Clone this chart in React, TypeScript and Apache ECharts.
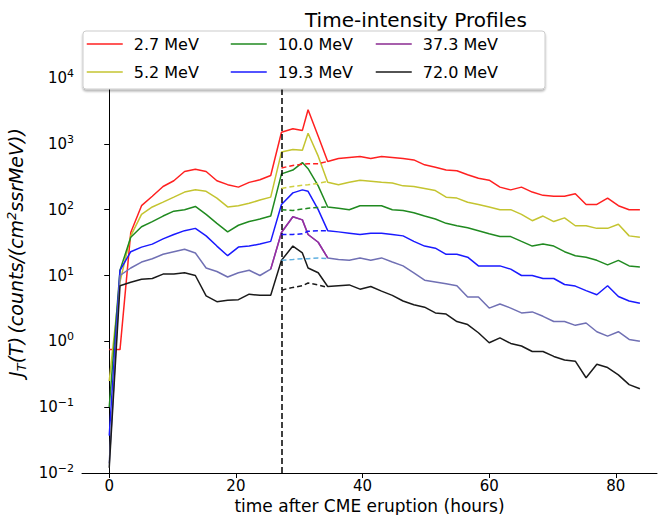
import React, { useEffect, useRef } from 'react';
import * as echarts from 'echarts';

// hours after eruption
const times = [0, 1.7, 3.4, 5.1, 6.8, 8.5, 10.2, 11.9, 13.6, 15.3, 17, 18.7, 20.4, 22.1, 23.8, 25.5,
  27.2, 29, 30.5, 31.4, 33, 34.5,
  36.2, 37.9, 39.6, 41.3, 43, 44.7, 46.4, 48.1, 49.8, 51.5, 53.2, 54.9, 56.6, 58.3, 60, 61.7, 63.4,
  65.1, 66.8, 68.5, 70.2, 71.9, 73.6, 75.3, 77, 78.7, 80.4, 82.1, 83.8];

const e27 = [0.75, 0.75, 45, 115, 160, 225, 275, 380, 410, 380, 275, 240, 220, 260, 285, 330,
  1500, 1700, 1600, 3300, 1300, 540,
  600, 620, 640, 600, 640, 620, 600, 570, 480, 440, 400, 390, 340, 300, 280, 220, 200, 220, 185, 165,
  160, 160, 175, 120, 120, 150, 115, 100, 100];
const e52 = [0.25, 8, 40, 85, 110, 130, 155, 185, 200, 190, 150, 110, 115, 125, 140, 155,
  750, 820, 800, 1450, 650, 260,
  240, 260, 280, 270, 260, 255, 230, 225, 210, 195, 155, 150, 130, 120, 110, 100, 100, 85, 68, 80,
  66, 75, 57, 57, 52, 52, 60, 40, 38];
const e100 = [0.1, 12, 38, 55, 66, 80, 95, 100, 112, 85, 62, 46, 58, 66, 72, 80,
  350, 400, 520, 420, 230, 110,
  105, 100, 115, 115, 115, 100, 97, 90, 80, 72, 62, 57, 53, 48, 43, 39, 39, 33, 28, 30,
  28, 23, 20, 19, 17, 14.5, 17, 14, 13.5];
const e193 = [0.037, 12, 23, 27, 30, 36, 42, 48, 52, 40, 28, 20, 27, 28, 30, 33,
  120, 180, 200, 190, 100, 48,
  46, 44, 42, 44, 44, 42, 40, 33, 28, 26, 21, 21, 19, 14, 14, 14, 12.5, 10, 10, 9,
  9, 7.3, 6.9, 5.9, 5.1, 7, 4.8, 4.1, 3.8];
const e373 = [0.014, 10, 13, 16, 18, 21, 23, 25, 22, 13, 11.5, 9.5, 11, 12, 10, 12.5,
  45, 78, 70, 42, 32, 18.5,
  17.5, 17, 18.5, 17, 18.5, 16, 14, 11, 8.5, 8, 7.5, 7, 4.7, 4.7, 3.2, 3.7, 3.2, 2.7, 2.8, 2.4,
  2, 2, 1.75, 1.9, 1.4, 1.2, 1.4, 1.07, 1.0];
const e720 = [0.012, 7, 7.9, 8.8, 9, 10.5, 10.5, 11, 10, 4.9, 4, 4.2, 4.3, 5.2, 5, 5,
  17, 28, 22, 13, 11, 6.8,
  7.0, 7.2, 6.2, 6.8, 5.8, 5.0, 4.1, 3.6, 3.3, 2.7, 2.6, 2.0, 1.8, 1.35, 0.95, 1.13, 0.93, 0.85, 0.7, 0.7,
  0.59, 0.52, 0.5, 0.28, 0.45, 0.40, 0.31, 0.22, 0.19];

// background estimates during the event (times 27.2 .. 34.5)
const bgTimes = [27.2, 29, 30.5, 31.4, 33, 34.5];
const bg27 = [430, 470, 490, 500, 500, 540];
const bg52 = [210, 225, 235, 240, 250, 270];
const bg100 = [100, 97, 102, 105, 108, 110];
const bg193 = [42, 42, 43, 47, 48, 48];
const bg373 = [17, 17.5, 18, 18, 18.5, 18];
const bg720 = [6, 6.6, 7, 7.7, 7.2, 6.6];

const onsetTime = 27.2;
const xTicks = [0, 20, 40, 60, 80];

const names = ['2.7 MeV', '5.2 MeV', '10.0 MeV', '19.3 MeV', '37.3 MeV', '72.0 MeV'];
const colors = ['#ff2020', '#c4c430', '#208a20', '#1a1aff', '#7070b4', '#1a1a1a'];
const legendColors = ['#ff2020', '#c4c430', '#208a20', '#1a1aff', '#8a2a90', '#1a1a1a'];
const dashColors = ['#ff2020', '#d0d040', '#208a20', '#1a1aff', '#60b0e0', '#1a1a1a'];

const App: React.FC = () => {
  const chartRef = useRef<HTMLDivElement>(null);

  useEffect(() => {
    if (!chartRef.current) return;
    document.body.style.margin = '0';
    const chart = echarts.init(chartRef.current, null, { renderer: 'svg' });

    const all = [e27, e52, e100, e193, e373, e720];
    const bgs = [bg27, bg52, bg100, bg193, bg373, bg720];
    const series: any[] = all.map((vals, i) => ({
      name: names[i],
      type: 'line',
      symbol: 'none',
      data: times.map((t, k) => [t, vals[k]]),
      lineStyle: { color: colors[i], width: 1.5 },
      itemStyle: { color: colors[i] },
      z: 3,
    }));
    // purple segment of the 37.3 MeV curve during the event
    series.push({
      type: 'line',
      symbol: 'none',
      data: times.map((t, k) => [t, e373[k]]).slice(15, 22),
      lineStyle: { color: '#9a2aa0', width: 1.5 },
      z: 4,
    });
    bgs.forEach((vals, i) => {
      series.push({
        type: 'line',
        symbol: 'none',
        data: bgTimes.map((t, k) => [t, vals[k]]),
        lineStyle: { color: dashColors[i], width: 1.5, type: [5, 3] },
        z: 5,
      });
    });
    series[0].markLine = {
      silent: true,
      symbol: 'none',
      label: { show: false },
      lineStyle: { color: '#000', type: [6, 3], width: 1.5 },
      data: [{ xAxis: onsetTime }],
    };

    const columns = [[0, 1], [2, 3], [4, 5]];
    const colLeft = [86, 230, 375];
    const legends = columns.map((col, c) => ({
      left: colLeft[c],
      top: 36,
      orient: 'vertical',
      itemWidth: 36,
      itemHeight: 12,
      itemGap: 12,
      padding: 0,
      itemStyle: { opacity: 0 },
      textStyle: { fontFamily: 'DejaVu Sans', fontSize: 16, color: '#000', padding: [0, 0, 0, 6] },
      data: col.map((i) => ({
        name: names[i],
        lineStyle: { color: legendColors[i], width: 1.5 },
      })),
    }));

    chart.setOption({
      animation: false,
      title: {
        text: 'Time-intensity Profiles',
        left: 300,
        top: 5,
        textStyle: { fontFamily: 'DejaVu Sans', fontSize: 20, fontWeight: 'normal', color: '#000' },
      },
      graphic: [{
        type: 'rect',
        shape: { x: 83, y: 31, width: 462, height: 58, r: 3 },
        style: { fill: '#fff', stroke: '#ccc', lineWidth: 1, shadowColor: 'rgba(0,0,0,0.3)', shadowOffsetY: 2, shadowBlur: 2 },
        z: 10,
      }],
      legend: legends.map((l) => ({ ...l, z: 11 })),
      grid: { left: 82, right: 3, top: 32, bottom: 42, outerBoundsMode: 'none' },
      xAxis: {
        type: 'value',
        min: -4.3,
        max: 86.5,
        name: 'time after CME eruption (hours)',
        nameLocation: 'middle',
        nameGap: 18,
        nameTextStyle: { fontFamily: 'DejaVu Sans', fontSize: 17, color: '#000' },
        axisLine: { lineStyle: { color: '#000' } },
        axisTick: { customValues: xTicks, length: 5, lineStyle: { color: '#000' } },
        axisLabel: { customValues: xTicks, fontFamily: 'DejaVu Sans', fontSize: 15, color: '#000', margin: 5 },
        splitLine: { show: false },
      },
      yAxis: {
        type: 'log',
        min: 0.01,
        max: 50000,
        name: '{i|J}{s|T}{i|(T)} {i|(counts/(cm}{p|2}{i|ssrMeV))}',
        nameLocation: 'middle',
        nameGap: 40,
        nameRotate: 90,
        nameTextStyle: {
          rich: {
            i: { fontFamily: 'DejaVu Sans', fontStyle: 'italic', fontSize: 19, color: '#000' },
            s: { fontFamily: 'DejaVu Sans', fontStyle: 'italic', fontSize: 13, color: '#000', verticalAlign: 'bottom', padding: [10, 0, 0, 0] },
            p: { fontFamily: 'DejaVu Sans', fontStyle: 'italic', fontSize: 13, color: '#000', verticalAlign: 'top', padding: [0, 0, 10, 0] },
          },
        },
        axisLine: { show: true, lineStyle: { color: '#000' } },
        axisTick: { show: true, length: 5, lineStyle: { color: '#000' } },
        splitLine: { show: false },
        axisLabel: {
          fontFamily: 'DejaVu Sans',
          fontSize: 15,
          color: '#000',
          formatter: (v: number) => {
            const e = Math.round(Math.log10(v));
            if (e > 4) return '';
            return '10{sup|' + (e < 0 ? '\u2212' + -e : e) + '}';
          },
          rich: {
            sup: { fontFamily: 'DejaVu Sans', fontSize: 11, color: '#000', verticalAlign: 'top', padding: [0, 0, 9, 0] },
          },
        },
      },
      series,
    });

    return () => chart.dispose();
  }, []);

  return <div ref={chartRef} style={{ width: 660, height: 515 }} />;
};

export default App;
